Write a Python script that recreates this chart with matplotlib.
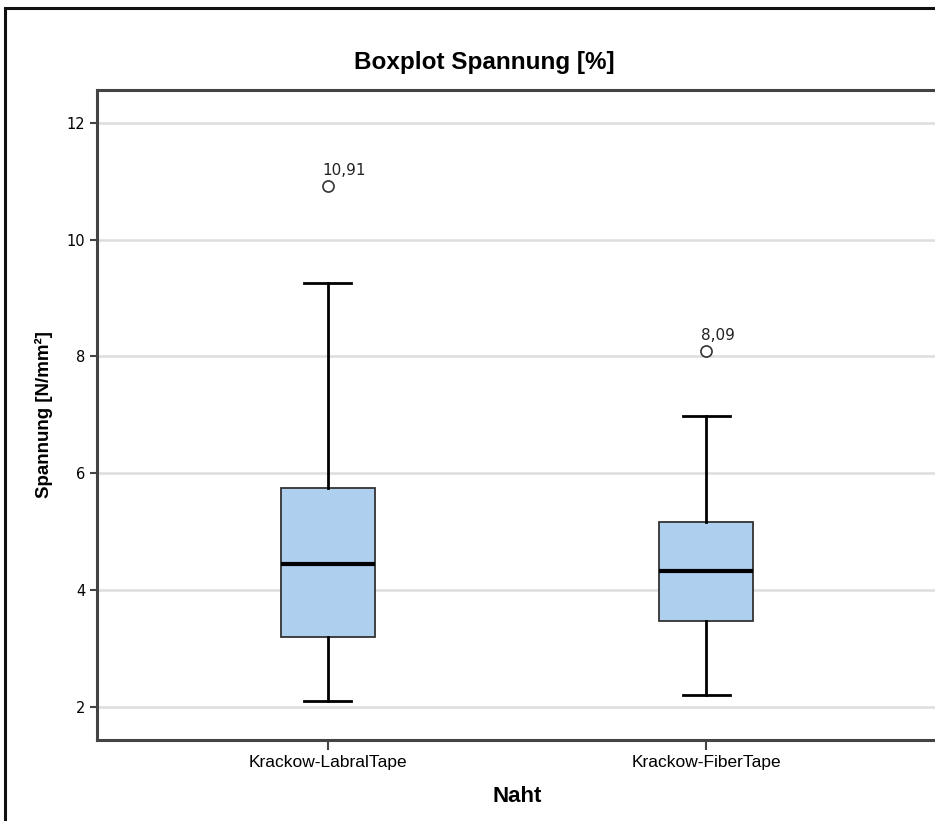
import matplotlib.pyplot as plt
from matplotlib.patches import Rectangle

naht = ['Krackow-LabralTape', 'Krackow-FiberTape']
q1 = [3.19, 3.47]
median = [4.45, 4.33]
q3 = [5.74, 5.16]
whisker_lo = [2.09, 2.20]
whisker_hi = [9.26, 6.97]
ausreisser = [[10.91], [8.09]]
ausreisser_label = ['10,91', '8,09']
yticks = [2, 4, 6, 8, 10, 12]

schmal = ['Liberation Sans', 'DejaVu Sans']

fig = plt.figure(figsize=(9.35, 8.21), dpi=100)
ax = fig.add_axes([97 / 935, 1 - 740 / 821, 840 / 935, 650 / 821])

stats = []
for i in range(len(naht)):
    stats.append(dict(med=median[i], q1=q1[i], q3=q3[i],
                      whislo=whisker_lo[i], whishi=whisker_hi[i],
                      fliers=ausreisser[i], label=naht[i]))

pos = list(range(1, len(naht) + 1))
ax.bxp(stats, positions=pos, widths=0.25, patch_artist=True,
       boxprops=dict(facecolor='#aecfee', edgecolor='#333333', lw=1.3),
       medianprops=dict(color='black', lw=3),
       whiskerprops=dict(color='black', lw=2),
       capprops=dict(color='black', lw=2),
       flierprops=dict(marker='o', markerfacecolor='white',
                       markeredgecolor='#333333', markersize=8, mew=1.2),
       zorder=3)

for i in range(len(naht)):
    ax.annotate(ausreisser_label[i], (pos[i], ausreisser[i][0]),
                xytext=(-4, 8), textcoords='offset points',
                fontsize=11, color='#222222')

ax.set_xlim(0.39, 2.61)
ax.set_ylim(1.43, 12.56)
ax.set_yticks(yticks)
ax.set_yticklabels([str(t) for t in yticks])
ax.yaxis.grid(True, color='#dddddd', lw=1.8, zorder=0)
ax.set_axisbelow(True)
ax.tick_params(axis='y', labelsize=10.5, length=5, width=1.5, color='#444444')
ax.tick_params(axis='x', length=7, width=1.5, color='#444444', pad=4)
ax.set_xticks(pos)
ax.set_xticklabels(naht, fontsize=12.5, family=schmal)
for s in ax.spines.values():
    s.set_color('#444444')
    s.set_linewidth(2.2)

ax.set_ylabel('Spannung [N/mm²]', fontsize=13.5, fontweight='bold',
              family=schmal, labelpad=10)
ax.set_xlabel('Naht', fontsize=16, fontweight='bold', family=schmal, labelpad=11)
fig.text(484 / 935, 1 - 62 / 821, 'Boxplot Spannung [%]', ha='center', va='center',
         fontsize=17.5, fontweight='bold', family=schmal)

# äußerer Rahmen
fig.patches.append(Rectangle((5 / 935, -0.1), 1.2, 1.1 - 8 / 821,
                             transform=fig.transFigure, fill=False,
                             edgecolor='#111111', lw=2.2))

fig.savefig('out.png', dpi=100)
